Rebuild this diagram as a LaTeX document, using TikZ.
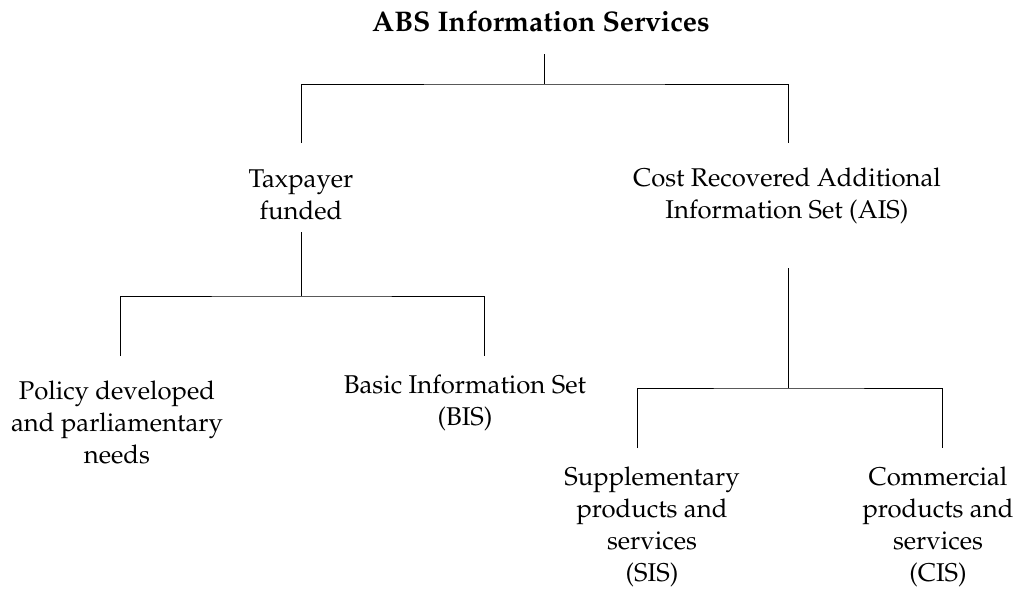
\documentclass[tikz,border=0pt]{standalone}
\usepackage[T1]{fontenc}
\usepackage{mathpazo}
\begin{document}
\begin{tikzpicture}[x=1pt,y=-1pt,
  lbl/.style={align=center,font=\fontsize{25.7}{32}\selectfont,inner sep=0pt},
  ttl/.style={font=\fontsize{28.4}{34}\selectfont\bfseries,inner sep=0pt},
  conn/.style={line width=1pt,black}]
\useasboundingbox (0,0) rectangle (1017,595);
\node[ttl] (title) at (541,21) {ABS Information Services};
\node[lbl] (tax) at (301,194.5) {Taxpayer\\funded};
\node[lbl] (cost) at (787,196) {Cost Recovered Additional\\Information Set (AIS)};
\node[lbl] (pol) at (117,422) {Policy developed\\and parliamentary\\needs};
\node[lbl] (bis) at (465,403) {Basic Information Set\\(BIS)};
\node[lbl] (sis) at (652,527) {Supplementary\\products and\\services\\(SIS)};
\node[lbl] (cis) at (938,527) {Commercial\\products and\\services\\(CIS)};
% coordinates
\coordinate (t0) at (544,54);
\coordinate (t1) at (544,84);
\coordinate (taxTop) at (301,143);
\coordinate (costTop) at (788,143);
\coordinate (tax0) at (301,232);
\coordinate (tax1) at (301,296);
\coordinate (polTop) at (120,356);
\coordinate (bisTop) at (484,356);
\coordinate (cost0) at (788,268);
\coordinate (cost1) at (788,388);
\coordinate (sisTop) at (637,448);
\coordinate (cisTop) at (942,448);
\draw[conn] (t0) -- (t1);
\draw[conn] (taxTop) |- (t1) -| (costTop);
\draw[conn] (tax0) -- (tax1);
\draw[conn] (polTop) |- (tax1) -| (bisTop);
\draw[conn] (cost0) -- (cost1);
\draw[conn] (sisTop) |- (cost1) -| (cisTop);
\end{tikzpicture}
\end{document}
